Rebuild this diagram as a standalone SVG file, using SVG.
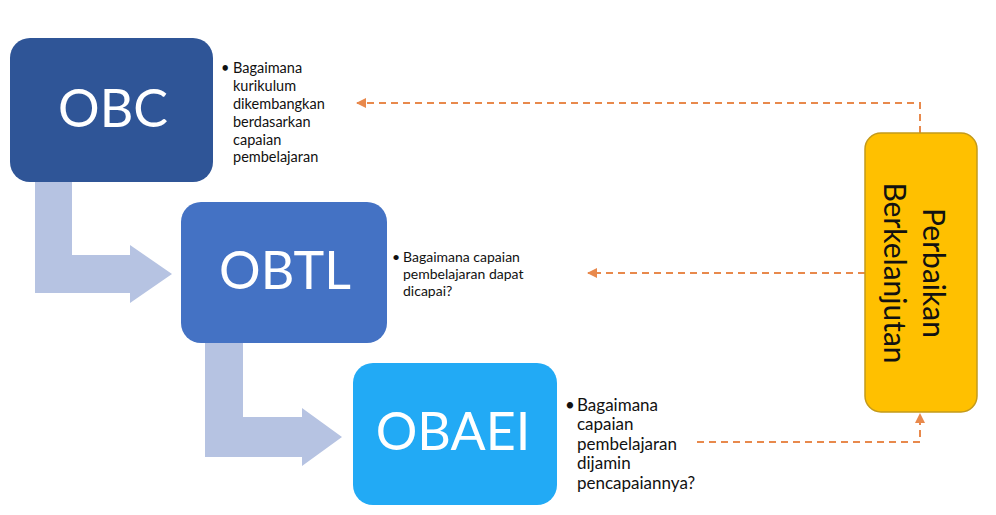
<svg xmlns="http://www.w3.org/2000/svg" width="996" height="515" viewBox="0 0 996 515">
<style>
.bg{fill:#ffffff}
.flow{fill:#B6C3E2}
.big{font-family:Lato,"Liberation Sans",sans-serif;fill:#ffffff;text-anchor:middle}
.note{font-family:Lato,"Liberation Sans",sans-serif;fill:#111111}
.vert{font-family:Lato,"Liberation Sans",sans-serif;fill:#111111;font-size:30px;text-anchor:middle}
.dash{fill:none;stroke:#E8894C;stroke-width:2;stroke-dasharray:7 5}
</style>
<defs>
<marker id="ah" viewBox="0 0 10 10" refX="9" refY="5" markerWidth="11" markerHeight="10" markerUnits="userSpaceOnUse" orient="auto">
<path d="M0,0 L10,5 L0,10 Z" fill="#E8894C"/>
</marker>
</defs>
<rect class="bg" x="0" y="0" width="996" height="515"/>
<g id="flow-arrows">
<path class="flow" d="M35,182 L72,182 L72,255 L130,255 L130,245 L172,274 L130,303 L130,293 L35,293 Z"/>
<path class="flow" d="M205,343 L243,343 L243,417 L302,417 L302,408 L342,437 L302,466 L302,457 L205,457 Z"/>
</g>
<g id="connectors">
<path class="dash" d="M920,133 V103 H357" marker-end="url(#ah)"/>
<path class="dash" d="M865,273 H588" marker-end="url(#ah)"/>
<path class="dash" d="M697,442 H920 V414" marker-end="url(#ah)"/>
</g>
<g id="obc">
<rect x="10" y="38" width="203" height="144" rx="20" fill="#2F5597"/>
<text class="big" x="113" y="127" font-size="52">OBC</text>
</g>
<g id="obc-note">
<text class="note" font-size="14.5"><tspan x="221" y="73">•</tspan><tspan x="233" y="73">Bagaimana</tspan><tspan x="233" y="91">kurikulum</tspan><tspan x="233" y="109">dikembangkan</tspan><tspan x="233" y="127">berdasarkan</tspan><tspan x="233" y="145">capaian</tspan><tspan x="233" y="162">pembelajaran</tspan></text>
</g>
<g id="obtl">
<rect x="181" y="202" width="206" height="141" rx="20" fill="#4472C4"/>
<text class="big" x="285" y="289" font-size="52">OBTL</text>
</g>
<g id="obtl-note">
<text class="note" font-size="14"><tspan x="392" y="262">•</tspan><tspan x="403" y="262">Bagaimana capaian</tspan><tspan x="403" y="279">pembelajaran dapat</tspan><tspan x="403" y="296">dicapai?</tspan></text>
</g>
<g id="obaei">
<rect x="353" y="363" width="204" height="142" rx="20" fill="#22AAF5"/>
<text class="big" x="453" y="450" font-size="52">OBAEI</text>
</g>
<g id="obaei-note">
<text class="note" font-size="17"><tspan x="565" y="411">•</tspan><tspan x="577" y="411">Bagaimana</tspan><tspan x="577" y="430">capaian</tspan><tspan x="577" y="450">pembelajaran</tspan><tspan x="577" y="469">dijamin</tspan><tspan x="577" y="489">pencapaiannya?</tspan></text>
</g>
<g id="perbaikan">
<rect x="865" y="133" width="112" height="279" rx="16" fill="#FFC000" stroke="#C49A1A" stroke-width="1.5"/>
<g transform="translate(921,273) rotate(90)">
<text class="vert"><tspan x="0" y="-2">Perbaikan</tspan><tspan x="0" y="37">Berkelanjutan</tspan></text>
</g>
</g>
</svg>
